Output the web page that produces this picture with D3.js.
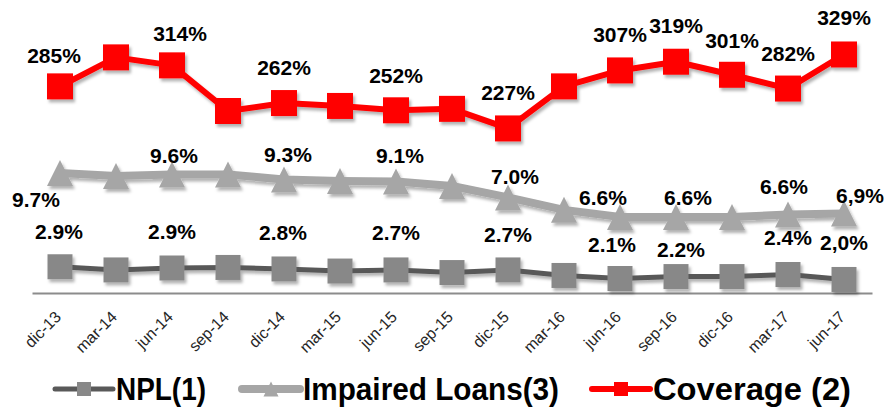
<!DOCTYPE html>
<html>
<head>
<meta charset="utf-8">
<script src="https://cdn.jsdelivr.net/npm/d3@7"></script>
<style>
  body { margin: 0; background: #fff; }
  text { font-family: "Liberation Sans", Arial, sans-serif; }
</style>
</head>
<body>
<div id="chart"></div>
<script>
// data
const periods = ["dic-13","mar-14","jun-14","sep-14","dic-14","mar-15","jun-15","sep-15",
                 "dic-15","mar-16","jun-16","sep-16","dic-16","mar-17","jun-17"];
const npl      = [2.9, 2.67, 2.81, 2.85, 2.74, 2.59, 2.67, 2.48, 2.67, 2.27, 2.05, 2.19, 2.19, 2.34, 1.98];
const impaired = [9.69, 9.47, 9.58, 9.58, 9.22, 9.11, 9.07, 8.75, 7.92, 7.02, 6.5, 6.5, 6.5, 6.68, 6.76];
const coverage = [285, 325, 314, 251, 262, 258, 252, 254, 227, 285, 307, 319, 301, 282, 329];

const nplLabels = ["2.9%","","2.9%","","2.8%","","2.7%","","2.7%","","2.1%","2.2%","","2.4%","2,0%"];
const impLabels = ["9.7%","","9.6%","","9.3%","","9.1%","","7.0%","","6.6%","6.6%","","6.6%","6,9%"];
const covLabels = ["285%","","314%","","262%","","252%","","227%","","307%","319%","301%","282%","329%"];

const seriesNames = ["NPL(1)", "Impaired Loans(3)", "Coverage (2)"];

// label nudges [dx, dy] from the point (layout, not data)
const nplNudge = [[-1,-28],null,[0,-29],null,[-1,-29],null,[0,-30],null,[0,-28],null,[-8,-27],[5,-20],null,[0,-29],[0,-29]];
const impNudge = [[-24,34],null,[2,-12],null,[4,-17],null,[4,-19],null,[7,-13],null,[-17,-12],[12,-12],null,[-4,-21],[16,-10]];
const covNudge = [[-6,-23],null,[8,-24],null,[0,-28],null,[0,-27],null,[0,-28],null,[0,-28],[0,-29],[0,-27],[0,-28],[0,-29]];

const width = 887, height = 407;
const margin = {top: 3, right: 15, bottom: 114, left: 32};
const plotW = width - margin.left - margin.right,
      plotH = height - margin.top - margin.bottom;

const svg = d3.select("#chart").append("svg")
    .attr("width", width)
    .attr("height", height);

const defs = svg.append("defs");
defs.append("filter").attr("id", "shadow")
    .attr("x", "-20%").attr("y", "-20%").attr("width", "140%").attr("height", "160%")
  .append("feDropShadow")
    .attr("dx", 2).attr("dy", 3).attr("stdDeviation", 1.6)
    .attr("flood-color", "#000").attr("flood-opacity", 0.3);

const g = svg.append("g").attr("transform", `translate(${margin.left},${margin.top})`);

const x = d3.scaleBand().domain(periods).range([0, plotW]);
const yLeft = d3.scaleLinear().domain([1, 22]).range([plotH, 0]);
const yRight = d3.scaleLinear().domain([0, 400]).range([plotH, 0]);
const cx = d => x(d) + x.bandwidth() / 2;

// x axis
const xAxis = g.append("g")
    .attr("transform", `translate(0,${plotH})`)
    .call(d3.axisBottom(x).tickSize(0).tickSizeOuter(0));
xAxis.select(".domain").attr("stroke", "#8c8c8c").attr("stroke-width", 2);
xAxis.selectAll("text")
    .attr("y", 0).attr("x", 0).attr("dy", 0)
    .attr("transform", "translate(2,25) rotate(-45)")
    .style("text-anchor", "end")
    .style("font-size", "16px")
    .style("font-family", "'Liberation Sans', Arial, sans-serif")
    .attr("fill", "#262626");

const series = [
  {name: seriesNames[0], values: npl, y: yLeft, line: "#595959", marker: "#888888", lw: 5, shape: "square", size: 25, labels: nplLabels, nudge: nplNudge},
  {name: seriesNames[1], values: impaired, y: yLeft, line: "#a6a6a6", marker: "#a6a6a6", lw: 8, shape: "triangle", size: 26, labels: impLabels, nudge: impNudge},
  {name: seriesNames[2], values: coverage, y: yRight, line: "#ff0000", marker: "#ff0000", lw: 6, shape: "square", size: 26, labels: covLabels, nudge: covNudge}
];

function markerPath(shape, s) {
  if (shape === "square") return `M${-s/2},${-s/2}h${s}v${s}h${-s}Z`;
  return `M0,${-s/2}L${s/2},${s/2}L${-s/2},${s/2}Z`;
}

series.forEach(sr => {
  const sg = g.append("g").attr("filter", "url(#shadow)");
  const line = d3.line()
      .x((d, i) => cx(periods[i]))
      .y(d => sr.y(d));
  sg.append("path")
      .datum(sr.values)
      .attr("fill", "none")
      .attr("stroke", sr.line)
      .attr("stroke-width", sr.lw)
      .attr("stroke-linejoin", "round")
      .attr("d", line);
  sg.selectAll("path.mk")
    .data(sr.values)
    .join("path")
      .attr("class", "mk")
      .attr("transform", (d, i) => `translate(${cx(periods[i])},${sr.y(d)})`)
      .attr("d", markerPath(sr.shape, sr.size))
      .attr("fill", sr.marker);
});

// data labels on top
series.forEach(sr => {
  g.selectAll(null)
    .data(sr.values.map((v, i) => ({v, i})).filter(d => sr.labels[d.i] !== ""))
    .join("text")
      .attr("x", d => cx(periods[d.i]) + sr.nudge[d.i][0])
      .attr("y", d => sr.y(d.v) + sr.nudge[d.i][1])
      .attr("text-anchor", "middle")
      .attr("font-size", 21)
      .attr("font-weight", "bold")
      .attr("fill", "#000")
      .text(d => sr.labels[d.i]);
});

// legend
const legendX = [55, 242, 592];
const legendTextW = [90, 256, 198];
const legend = svg.append("g").attr("transform", "translate(0,389)");
series.forEach((sr, i) => {
  const lg = legend.append("g").attr("transform", `translate(${legendX[i]},0)`);
  lg.append("line")
      .attr("x1", 0).attr("x2", 58).attr("y1", 0).attr("y2", 0)
      .attr("stroke", sr.line).attr("stroke-width", sr.lw)
      .attr("stroke-linecap", "round");
  lg.append("path")
      .attr("transform", "translate(29,0)")
      .attr("d", markerPath(sr.shape, sr.shape === "square" ? 14 : 15))
      .attr("fill", sr.marker);
  lg.append("text")
      .attr("x", 61).attr("y", 11)
      .attr("font-size", 31)
      .attr("font-weight", "bold")
      .attr("fill", "#000")
      .attr("textLength", legendTextW[i])
      .attr("lengthAdjust", "spacingAndGlyphs")
      .text(sr.name);
});
</script>
</body>
</html>
